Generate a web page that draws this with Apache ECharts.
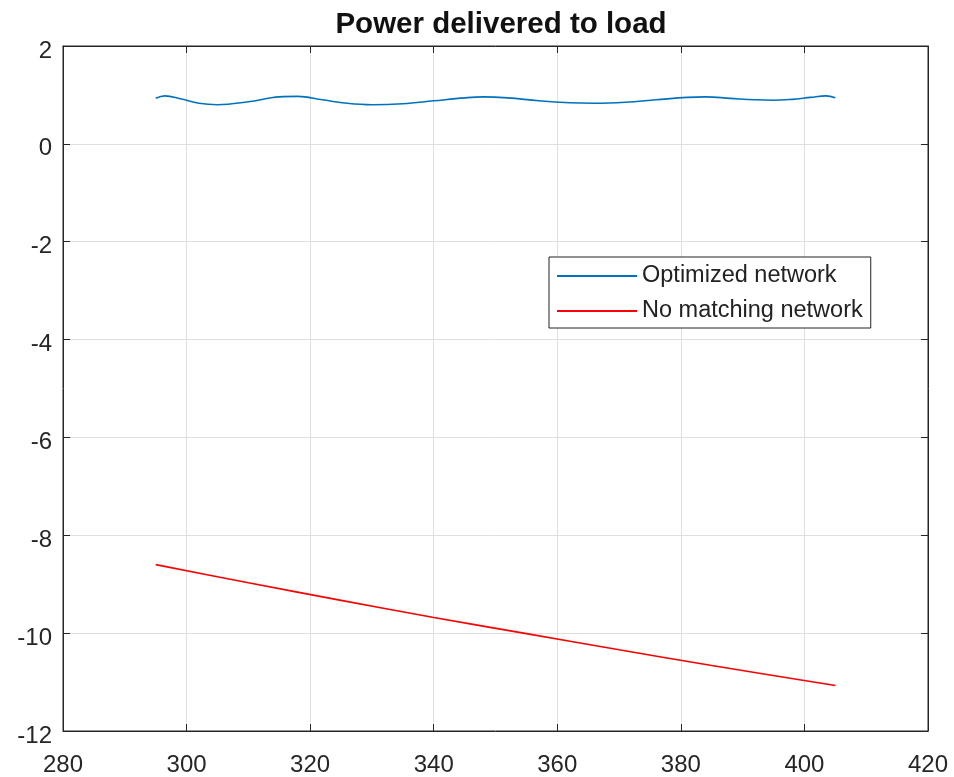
<!DOCTYPE html>
<html>
<head>
<meta charset="utf-8">
<script src="https://cdn.jsdelivr.net/npm/echarts@6/dist/echarts.min.js"></script>
<style>html,body{margin:0;padding:0;background:#fff;}#c{width:954px;height:777px;}</style>
</head>
<body>
<div id="c"></div>
<script>
const titleText = 'Power delivered to load';
const seriesNames = ['Optimized network', 'No matching network'];
const optX = [295, 296.5, 299, 302, 305, 310, 315, 318, 322, 326, 330, 335, 340, 345, 348, 352, 357, 362, 366, 371, 376, 381, 384, 388, 392, 395, 398, 401, 403.5, 405];
const optY = [0.93, 0.98, 0.92, 0.83, 0.80, 0.86, 0.96, 0.97, 0.90, 0.83, 0.80, 0.82, 0.88, 0.94, 0.96, 0.94, 0.88, 0.84, 0.83, 0.85, 0.90, 0.95, 0.96, 0.93, 0.90, 0.89, 0.91, 0.95, 0.98, 0.94];
const noX = [295, 310, 325, 340, 355, 370, 385, 405];
const noY = [-8.6, -8.97, -9.33, -9.68, -10.01, -10.34, -10.66, -11.07];
const xTicks = {min: 280, max: 420, interval: 20};
const yTicks = {min: -12, max: 2, interval: 2};

const axisCol = '#262626';
const font = 'Liberation Sans, Arial, sans-serif';
const chart = echarts.init(document.getElementById('c'));
const baseX = {type: 'value', min: xTicks.min, max: xTicks.max, interval: xTicks.interval};
const baseY = {type: 'value', min: yTicks.min, max: yTicks.max, interval: yTicks.interval};
const line = {show: true, onZero: false, lineStyle: {color: axisCol}};
const tick = {show: true, inside: true, length: 7, lineStyle: {color: axisCol}};
chart.setOption({
  animation: false,
  backgroundColor: '#fff',
  title: {text: titleText, left: 496, textAlign: 'center', top: 5,
    textStyle: {fontFamily: font, fontWeight: 'bold', fontSize: 29.5, color: '#111'}},
  grid: {left: 63, right: 26, top: 46, bottom: 46, show: true, borderColor: axisCol, borderWidth: 1},
  legend: {
    orient: 'vertical', left: 549, top: 257,
    data: seriesNames,
    icon: 'rect', itemWidth: 80, itemHeight: 2, itemGap: 11,
    padding: [7, 8, 5, 8],
    borderColor: '#222', borderWidth: 1, backgroundColor: '#fff',
    textStyle: {fontFamily: font, fontSize: 23.5, color: '#222'}
  },
  xAxis: [
    Object.assign({}, baseX, {position: 'bottom', axisLine: line, axisTick: tick,
      axisLabel: {fontFamily: font, fontSize: 24, color: axisCol, margin: 22},
      splitLine: {show: true, lineStyle: {color: '#dfdfdf'}}}),
    Object.assign({}, baseX, {position: 'top', axisLine: line, axisTick: tick,
      axisLabel: {show: false}, splitLine: {show: false}})
  ],
  yAxis: [
    Object.assign({}, baseY, {position: 'left', axisLine: line, axisTick: tick,
      axisLabel: {color: axisCol, margin: 11,
        formatter: v => '{a|' + v + '}',
        rich: {a: {fontFamily: font, fontSize: 24, color: axisCol, padding: [10, 0, 0, 0]}}},
      splitLine: {show: true, lineStyle: {color: '#dfdfdf'}}}),
    Object.assign({}, baseY, {position: 'right', axisLine: line, axisTick: tick,
      axisLabel: {show: false}, splitLine: {show: false}})
  ],
  series: [
    {name: seriesNames[0], type: 'line', smooth: 0.4, showSymbol: false,
      data: optX.map((x, i) => [x, optY[i]]),
      lineStyle: {color: '#0072BD', width: 1.6}, itemStyle: {color: '#0072BD'}},
    {name: seriesNames[1], type: 'line', smooth: 0.3, showSymbol: false,
      data: noX.map((x, i) => [x, noY[i]]),
      lineStyle: {color: '#ff0000', width: 1.6}, itemStyle: {color: '#ff0000'}}
  ]
});
</script>
</body>
</html>
